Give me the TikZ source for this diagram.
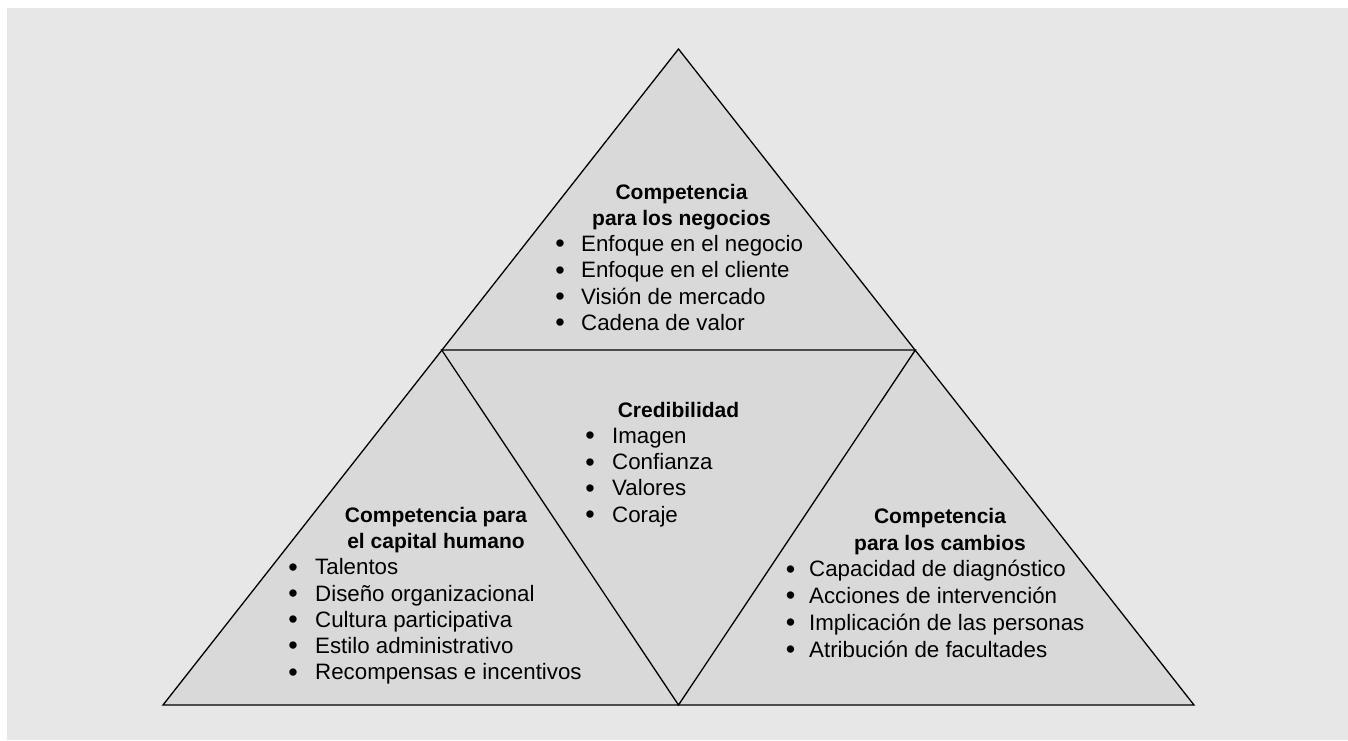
\documentclass[tikz,border=0pt]{standalone}
\usepackage{fontspec}
\setmainfont{Liberation Sans}
\definecolor{bgc}{HTML}{E7E7E7}
\definecolor{tric}{HTML}{D9D9D9}
\begin{document}
\begin{tikzpicture}[x=1pt,y=-1pt,
  edge/.style={line width=1.3pt, line join=miter},
  ttl/.style={anchor=base, inner sep=0pt, font=\bfseries\fontsize{21}{25}\selectfont},
  itm/.style={anchor=base west, inner sep=0pt, font=\fontsize{22.3}{26}\selectfont},
  bul/.style={anchor=base, inner sep=0pt, yshift=-1.4pt, font=\fontsize{27}{30}\selectfont}]
\useasboundingbox (0,0) rectangle (1348,740);
\fill[white] (0,0) rectangle (1348,740);
\fill[bgc] (7,8) rectangle (1348,740);
% vertices
\coordinate (A) at (678.5,49);
\coordinate (L) at (163,705);
\coordinate (R) at (1194,705);
\coordinate (M) at (678.5,705);
\coordinate (P) at (441.7,350);
\coordinate (Q) at (915.3,350);
\fill[tric] (A) -- (L) -- (R) -- cycle;
\draw[edge] (A) -- (L) -- (R) -- cycle;
\draw[edge] (P) -- (Q) -- (M) -- cycle;
% top block
\node[ttl] (t1) at (681.5,199) {Competencia};
\node[ttl] (t2) at (681.5,225.2) {para los negocios};
\foreach \t [count=\i] in {Enfoque en el negocio,Enfoque en el cliente,Visión de mercado,Cadena de valor}{
  \node[bul] (tb\i) at (560,{251.4+26.3*(\i-1)}) {•};
  \node[itm] (ti\i) at (581,{251.4+26.3*(\i-1)}) {\t};
}
% middle block
\node[ttl] (m1) at (678.5,417) {Credibilidad};
\foreach \t [count=\i] in {Imagen,Confianza,Valores,Coraje}{
  \node[bul] (mb\i) at (590,{443.3+26.3*(\i-1)}) {•};
  \node[itm] (mi\i) at (612,{443.3+26.3*(\i-1)}) {\t};
}
% bottom left block
\node[ttl] (l1) at (436,522) {Competencia para};
\node[ttl] (l2) at (436,548.3) {el capital humano};
\foreach \t [count=\i] in {Talentos,Diseño organizacional,Cultura participativa,Estilo administrativo,Recompensas e incentivos}{
  \node[bul] (lb\i) at (293,{574.8+26.2*(\i-1)}) {•};
  \node[itm] (li\i) at (315,{574.8+26.2*(\i-1)}) {\t};
}
% bottom right block
\node[ttl] (r1) at (940,523.5) {Competencia};
\node[ttl] (r2) at (940,550) {para los cambios};
\foreach \t [count=\i] in {Capacidad de diagnóstico,Acciones de intervención,Implicación de las personas,Atribución de facultades}{
  \node[bul] (rb\i) at (790.5,{576.6+26.8*(\i-1)}) {•};
  \node[itm] (ri\i) at (809,{576.6+26.8*(\i-1)}) {\t};
}
\end{tikzpicture}
\end{document}
